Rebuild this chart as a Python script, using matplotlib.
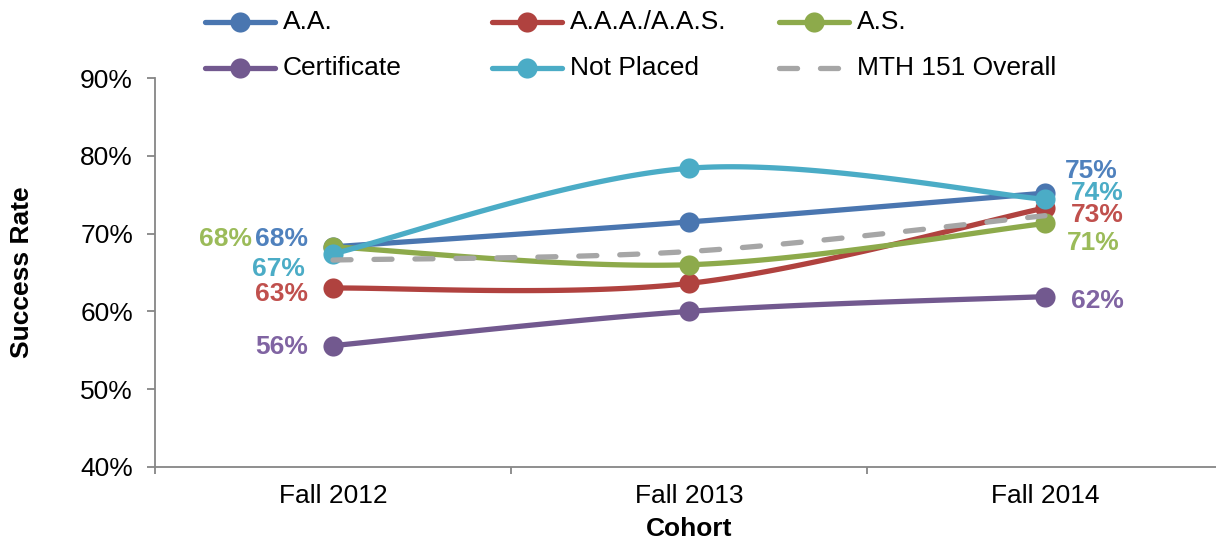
import numpy as np
import matplotlib
matplotlib.use("Agg")
import matplotlib.pyplot as plt
from matplotlib.lines import Line2D

plt.rcParams['font.family'] = ['Liberation Sans', 'DejaVu Sans']
plt.rcParams['lines.scale_dashes'] = False

# ---------------- data ----------------
cohorts = ["Fall 2012", "Fall 2013", "Fall 2014"]
series_names = ["A.A.", "A.A.A./A.A.S.", "A.S.", "Certificate", "Not Placed", "MTH 151 Overall"]
aa = [68.3, 71.5, 75.2]
aaa_aas = [63.0, 63.6, 73.3]
a_s = [68.3, 66.0, 71.3]
certificate = [55.6, 60.0, 61.9]
not_placed = [67.4, 78.4, 74.4]
mth151 = [66.6, 67.7, 72.3]
y_ticks = [40, 50, 60, 70, 80, 90]

series_values = [aa, aaa_aas, a_s, certificate, not_placed, mth151]
line_colors = ["#4A76B0", "#B0423F", "#8DAA4B", "#72598F", "#4BACC6", "#A6A6A6"]
label_colors = ["#4F81BD", "#C0504D", "#9BBB59", "#8064A2", "#4BACC6", None]
# label offsets (pixels) for first / last point
left_off = [(-25, 8), (-25, -6), (-81, 8), (-25, -1), (-28, -15), None]
right_off = [(20, 22), (26, -7), (22, -20), (26, -4), (26, 6), None]

FS = 19


def catmull_rom(xs, ys, n=60):
    xs = np.asarray(xs, float)
    ys = np.asarray(ys, float)
    P = np.column_stack([xs, ys])
    out = []
    m = len(P)
    for i in range(m - 1):
        p0 = P[i - 1] if i > 0 else P[i]
        p1 = P[i]
        p2 = P[i + 1]
        p3 = P[i + 2] if i + 2 < m else P[i + 1]
        c1 = p1 + (p2 - p0) / 6.0
        c2 = p2 - (p3 - p1) / 6.0
        t = np.linspace(0, 1, n)[:, None]
        seg = ((1 - t) ** 3) * p1 + 3 * ((1 - t) ** 2) * t * c1 + 3 * (1 - t) * t ** 2 * c2 + t ** 3 * p2
        if i > 0:
            seg = seg[1:]
        out.append(seg)
    out = np.vstack(out)
    return out[:, 0], out[:, 1]


W, H = 1216, 544
fig = plt.figure(figsize=(W / 100, H / 100), dpi=100)
left, right, top, bottom = 155, 1223, 78, 467
ax = fig.add_axes([left / W, (H - bottom) / H, (right - left) / W, (bottom - top) / H])

x = np.arange(len(cohorts))
LW = 3.8
MS = 14.5
dash = (13, 16.5)

for i, (name, vals) in enumerate(zip(series_names, series_values)):
    sx, sy = catmull_rom(x, vals)
    if name == "MTH 151 Overall":
        ax.plot(sx, sy, color=line_colors[i], lw=LW, dashes=dash,
                solid_capstyle='round', dash_capstyle='round', zorder=10 + i, clip_on=False)
    else:
        ax.plot(sx, sy, color=line_colors[i], lw=LW, solid_capstyle='round', zorder=10 + i, clip_on=False)
        ax.plot(x, vals, 'o', color=line_colors[i], ms=MS, mew=0, zorder=10 + i, clip_on=False)
        ax.annotate(f"{round(vals[0])}%", xy=(x[0], vals[0]), xytext=left_off[i],
                    textcoords='offset pixels', ha='right', va='center',
                    fontsize=FS, fontweight='bold', color=label_colors[i], zorder=30)
        ax.annotate(f"{round(vals[-1])}%", xy=(x[-1], vals[-1]), xytext=right_off[i],
                    textcoords='offset pixels', ha='left', va='center',
                    fontsize=FS, fontweight='bold', color=label_colors[i], zorder=30)

ax.set_xlim(-0.5, len(cohorts) - 0.5)
ax.set_ylim(y_ticks[0], y_ticks[-1])
ax.set_yticks(y_ticks)
ax.set_yticklabels([f"{t}%" for t in y_ticks])
ax.set_xticks(np.arange(len(cohorts) + 1) - 0.5)
ax.set_xticklabels([])
ax.set_xticks(x, minor=True)
ax.set_xticklabels(cohorts, minor=True)

axis_col = "#868686"
for s in ['top', 'right']:
    ax.spines[s].set_visible(False)
for s in ['left', 'bottom']:
    ax.spines[s].set_color(axis_col)
    ax.spines[s].set_linewidth(1.3)
ax.tick_params(axis='y', which='major', direction='out', length=5.8, width=1.3, color=axis_col,
               labelsize=FS, pad=10)
ax.tick_params(axis='x', which='major', direction='out', length=5.0, width=1.3, color=axis_col)
ax.tick_params(axis='x', which='minor', length=0, labelsize=FS, pad=12)

ax.set_ylabel("Success Rate", fontsize=FS, fontweight='bold')
ax.set_xlabel("Cohort", fontsize=FS, fontweight='bold')
ax.yaxis.set_label_coords((34 - left) / (right - left), 0.5)
ax.xaxis.set_label_coords((689 - left) / (right - left), -(517 - bottom) / (bottom - top))

# ---------------- legend (manual layout) ----------------
handle_x = [205, 492, 779]
text_x = [283, 570, 857]
row_y = [22, 68]
for i, name in enumerate(series_names):
    r, c = divmod(i, 3)
    yf = (H - row_y[r]) / H
    x0, x1 = handle_x[c] / W, (handle_x[c] + 70) / W
    if name == "MTH 151 Overall":
        ln = Line2D([x0, x1], [yf, yf], transform=fig.transFigure, color=line_colors[i], lw=LW,
                    dashes=dash, dash_capstyle='round')
        fig.add_artist(ln)
    else:
        ln = Line2D([x0, x1], [yf, yf], transform=fig.transFigure, color=line_colors[i], lw=LW,
                    solid_capstyle='round')
        mk = Line2D([(x0 + x1) / 2], [yf], transform=fig.transFigure, marker='o', ms=MS, mew=0,
                    color=line_colors[i], linestyle='none')
        fig.add_artist(ln)
        fig.add_artist(mk)
    fig.text(text_x[c] / W, yf, name, fontsize=FS, va='center', ha='left')

fig.savefig("out.png", dpi=100)
